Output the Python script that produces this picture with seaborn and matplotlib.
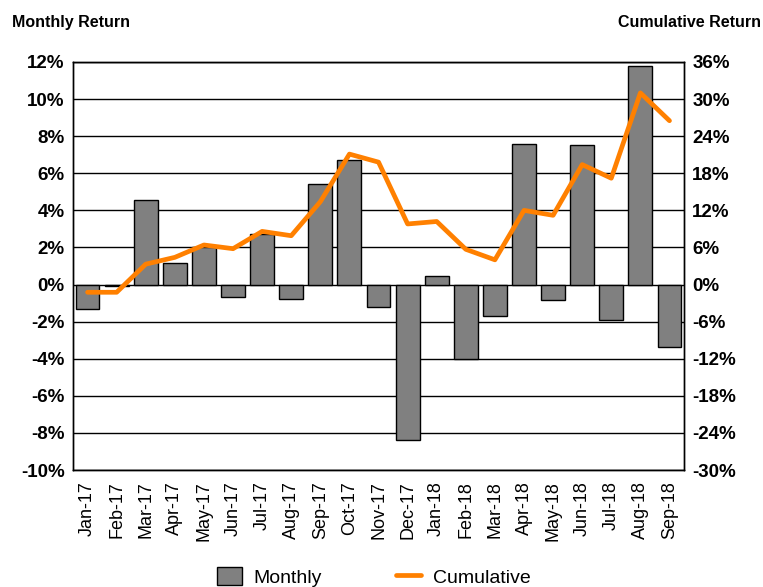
import numpy as np
import pandas as pd
import matplotlib
matplotlib.use("Agg")
import matplotlib.pyplot as plt
from matplotlib.patches import Patch
from matplotlib.lines import Line2D
from matplotlib.ticker import FuncFormatter, MultipleLocator
import seaborn as sns

# data
months = ["Jan-17", "Feb-17", "Mar-17", "Apr-17", "May-17", "Jun-17", "Jul-17",
          "Aug-17", "Sep-17", "Oct-17", "Nov-17", "Dec-17", "Jan-18", "Feb-18",
          "Mar-18", "Apr-18", "May-18", "Jun-18", "Jul-18", "Aug-18", "Sep-18"]
monthly = [-1.3, -0.1, 4.55, 1.15, 2.0, -0.65, 2.75, -0.8, 5.4, 6.7, -1.2,
           -8.4, 0.45, -4.0, -1.7, 7.6, -0.85, 7.5, -1.9, 11.8, -3.35]
cumulative = [-1.25, -1.25, 3.3, 4.4, 6.4, 5.8, 8.6, 7.9, 13.4, 21.1, 19.8,
              9.8, 10.2, 5.7, 4.0, 12.0, 11.2, 19.4, 17.2, 31.0, 26.5]

df = pd.DataFrame({"month": months, "monthly": monthly, "cumulative": cumulative,
                   "pos": np.arange(len(months))})

sns.set_style("white")
plt.rcParams["font.family"] = ["Liberation Sans", "DejaVu Sans"]
plt.rcParams["text.color"] = "black"
plt.rcParams["xtick.color"] = "black"
plt.rcParams["ytick.color"] = "black"

fig = plt.figure(figsize=(7.63, 5.87), dpi=100)
ax = fig.add_axes([0.0957, 0.1993, 0.8008, 0.6951])

sns.barplot(data=df, x="month", y="monthly", color="#808080", saturation=1,
            width=0.82, edgecolor="black", linewidth=1, ax=ax, zorder=3)
ax.set_ylim(-10, 12)
ax.set_xlim(-0.5, len(months) - 0.5)
ax.yaxis.set_major_locator(MultipleLocator(2))
ax.yaxis.set_major_formatter(FuncFormatter(lambda v, p: f"{v:.0f}%"))
ax.grid(axis="y", color="black", linewidth=1, zorder=0)
ax.set_axisbelow(True)
ax.set_xlabel("")
ax.set_ylabel("")
ax.tick_params(axis="y", length=0, labelsize=13.5, pad=6)
for t in ax.get_yticklabels():
    t.set_fontweight("bold")
ax.tick_params(axis="x", which="major", length=0, labelsize=13, pad=8,
               labelrotation=90)
ax.set_xticks(np.arange(0.5, len(months) - 1, 1), minor=True)
ax.tick_params(axis="x", which="minor", length=7, width=1, color="black",
               direction="out")
for s in ax.spines.values():
    s.set_color("black")
    s.set_linewidth(1)

ax2 = ax.twinx()
sns.lineplot(data=df, x="pos", y="cumulative", color="#FF8000", linewidth=3.4,
             ax=ax2, zorder=4)
ax2.set_ylim(-30, 36)
ax2.yaxis.set_major_locator(MultipleLocator(6))
ax2.yaxis.set_major_formatter(FuncFormatter(lambda v, p: f"{v:.0f}%"))
ax2.set_ylabel("")
ax2.set_xlabel("")
ax2.tick_params(axis="y", length=0, labelsize=13.5, pad=6)
for t in ax2.get_yticklabels():
    t.set_fontweight("bold")
for s in ax2.spines.values():
    s.set_color("black")
    s.set_linewidth(1)

fig.text(0.016, 0.962, "Monthly Return", fontsize=11.5, fontweight="bold",
         ha="left", va="center")
fig.text(0.998, 0.962, "Cumulative Return", fontsize=11.5, fontweight="bold",
         ha="right", va="center")

handles = [Patch(facecolor="#808080", edgecolor="black", linewidth=1),
           Line2D([0], [0], color="#FF8000", linewidth=3.4)]
fig.legend(handles, ["Monthly", "Cumulative"], loc="center",
           bbox_to_anchor=(0.49, 0.017), ncol=2, frameon=False, fontsize=14,
           columnspacing=3.8, handlelength=1.3, handleheight=1.0,
           handletextpad=0.6)

fig.savefig("out.png", dpi=100)
